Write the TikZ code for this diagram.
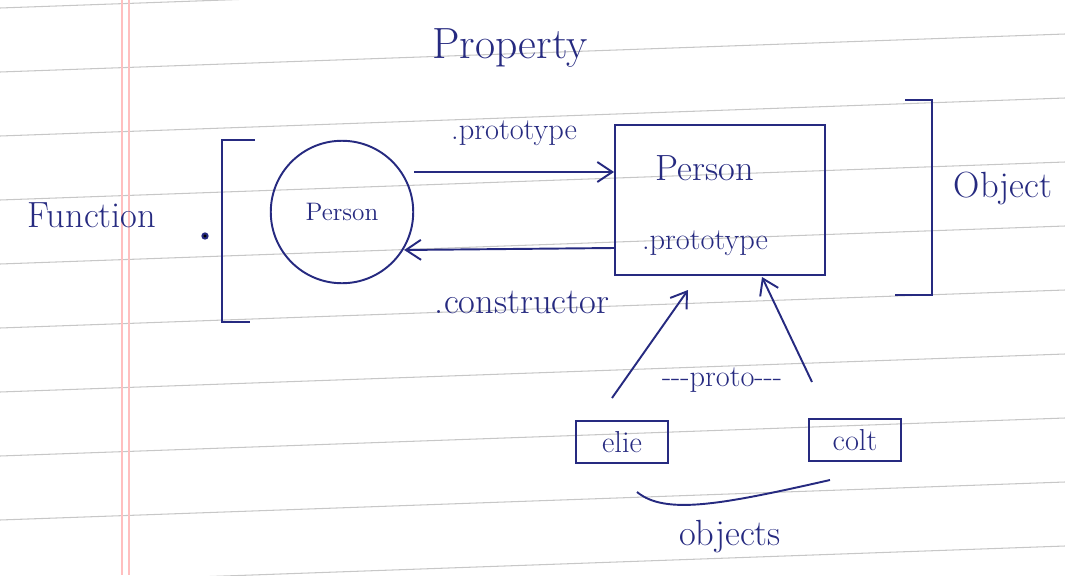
\documentclass[tikz,border=0pt]{standalone}
\usepackage{tikz}
\usetikzlibrary{positioning,arrows.meta}

\definecolor{ink}{RGB}{38,42,128}

\begin{document}
\begin{tikzpicture}[
		x=0.02cm, y=-0.02cm,
		ink/.style={draw=ink, line width=1.1pt},
		label/.style={text=ink, font=\huge},
		small/.style={text=ink, font=\LARGE},
		fnnode/.style={circle, draw=ink, line width=1.1pt, minimum size=2.85cm, text=ink, font=\Large},
		protonode/.style={rectangle, draw=ink, line width=1.1pt, minimum width=4.2cm, minimum height=3cm},
		objnode/.style={rectangle, draw=ink, line width=1.1pt, minimum width=1.85cm, minimum height=0.85cm, text=ink, font=\LARGE},
		link/.style={ink, -{Straight Barb[length=3mm, width=4mm]}},
		]
		\useasboundingbox (0,0) rectangle (1065,575);

		%Paper
		\foreach \y in {8,72,...,584}
			\draw[black!22, line width=0.6pt] (0,\y) -- (1065,\y-38);
		\draw[red!25, line width=0.6pt] (122,0) -- (122,575);
		\draw[red!25, line width=0.6pt] (129,0) -- (129,575);

		%Main Nodes
		\node[fnnode]		(person)		at (342,212)	{Person};
		\node[protonode]	(proto)			at (720,200)	{};
		\node[label]		(protoname)		at (705,168)	{Person};
		\node[small]		(protoprop)		at (705,243)	{.prototype};
		\node[label, font=\Huge]	(property)	at (510,48)	{Property};
		\node[label]		(function)		at (92,215)		{Function};
		\node[label]		(object)		at (1003,188)	{Object};

		%Brackets
		\coordinate (fntop) at (255,140);
		\coordinate (fnbot) at (250,322);
		\draw[ink] (fntop) -| (222,230) |- (fnbot);
		\fill[ink] (205,236) circle (1.5pt);
		\coordinate (objtop) at (905,100);
		\coordinate (objbot) at (895,295);
		\draw[ink] (objtop) -| (932,200) |- (objbot);

		%Main Lines
		\draw[link] (person.east |- 0,172) -- (proto.west |- 0,172) node[midway, above=4mm, small] {.prototype};
		\draw[link] (proto.west |- 0,248) -- ([xshift=-2mm]person.east |- 0,250);
		\node[label] (constructor) at (522,302) {.constructor};

		%Objects
		\node[objnode]	(elie)	at (622,442)	{elie};
		\node[objnode]	(colt)	at (855,440)	{colt};
		\coordinate (elieup) at (612,398);
		\coordinate (coltup) at (812,382);
		\draw[link] (elieup) -- (688,290);
		\draw[link] (coltup) -- (762,277);
		\node[small] (dunder) at (722,380) {-{}-{}-proto-{}-{}-};

		%Grouping
		\draw[ink] ([xshift=3mm]elie.south |- 0,492) .. controls (665,515) and (720,505) .. (830,480);
		\node[label] (objects) at (730,537) {objects};
	\end{tikzpicture}
\end{document}
